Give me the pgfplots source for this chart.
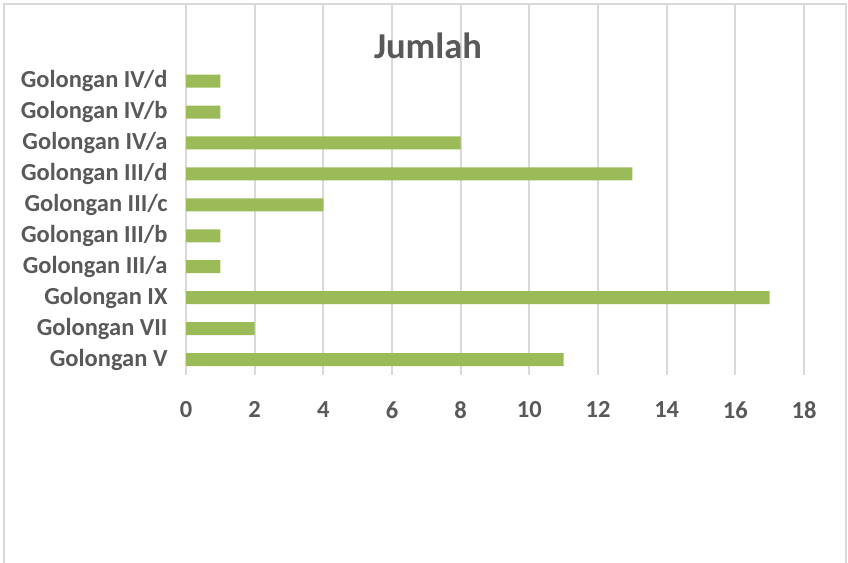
\documentclass[border=0pt]{standalone}
\usepackage{fontspec}
\setmainfont{Carlito}
\usepackage{pgfplots}
\pgfplotsset{compat=1.18}
\definecolor{txtc}{HTML}{595959}
\definecolor{gridc}{HTML}{D9D9D9}
\definecolor{barc}{HTML}{9BBB59}
\begin{document}
\begin{tikzpicture}[x=1pt,y=1pt]
\useasboundingbox (0,0) rectangle (848,562);
\begin{scope}
\clip (0,0) rectangle (848,562);
\draw[gridc,line width=2.5pt] (4,-10) rectangle (846,558);
\end{scope}
\begin{axis}[
  at={(186pt,187pt)}, anchor=south west,
  scale only axis, width=618pt, height=370pt,
  xmin=0, xmax=18, ymin=-0.5, ymax=11.46,
  axis line style={draw=none},
  xtick={0,2,...,18},
  ytick={0,...,9},
  yticklabels={Golongan V,Golongan VII,Golongan IX,Golongan III/a,Golongan III/b,Golongan III/c,Golongan III/d,Golongan IV/a,Golongan IV/b,Golongan IV/d},
  major tick length=0pt,
  xmajorgrids, major grid style={draw=gridc,line width=2pt},
  ymajorgrids=false,
  tick label style={font=\fontsize{24.5}{28}\selectfont\bfseries, text=txtc},
  /pgf/number format/assume math mode=true,
  xticklabel style={yshift=-23pt},
  yticklabel style={xshift=-15pt},
  xbar, bar width=13pt,
  clip=false,
]
\addplot[fill=barc, draw=none] coordinates {
(11,0) (2,1) (17,2) (1,3) (1,4) (4,5) (13,6) (8,7) (1,8) (1,9)
};
\end{axis}
\node[text=txtc, font=\fontsize{36.5}{42}\selectfont\bfseries] at (428,516) {Jumlah};
\end{tikzpicture}
\end{document}
